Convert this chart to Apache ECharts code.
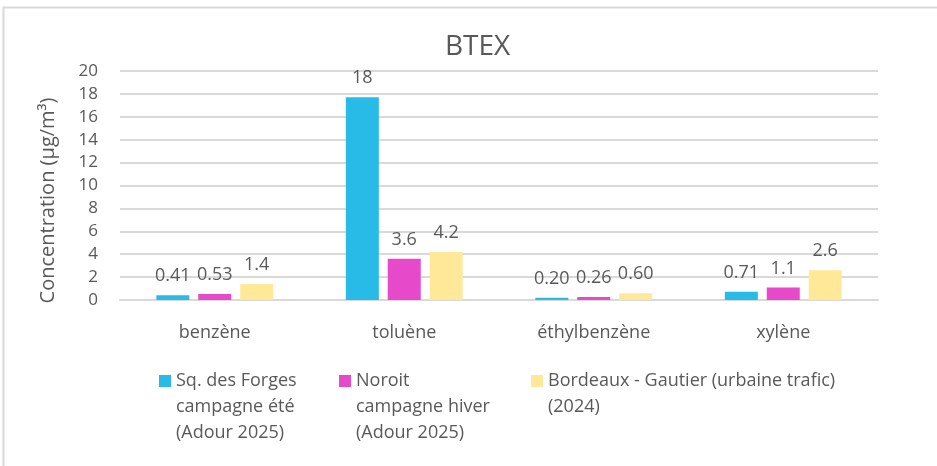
<!DOCTYPE html>
<html><head><meta charset="utf-8">
<script src="https://cdn.jsdelivr.net/npm/echarts@6/dist/echarts.min.js"></script>
<style>html,body{margin:0;padding:0;background:#fff}#c{width:937px;height:466px}</style>
</head><body><div id="c"></div>
<script>
const categories = ['benzène', 'toluène', 'éthylbenzène', 'xylène'];
const seriesNames = [
  'Sq. des Forges\ncampagne été\n(Adour 2025)',
  'Noroit\ncampagne hiver\n(Adour 2025)',
  'Bordeaux - Gautier (urbaine trafic)\n(2024)'
];
const forgesValues = [0.41, 17.7, 0.20, 0.71];
const noroitValues = [0.53, 3.6, 0.26, 1.1];
const bordeauxValues = [1.4, 4.2, 0.60, 2.6];
const yTicks = [0, 2, 4, 6, 8, 10, 12, 14, 16, 18, 20];
const colors = ['#29BBE8', '#E64ACA', '#FFE999'];
const allValues = [forgesValues, noroitValues, bordeauxValues];

const FONT = 'Open Sans';
const TXT = '#595959';
const chart = echarts.init(document.getElementById('c'));
const legendLefts = [159, 339, 531];
const LH = 26, ICON_CY = 381;
chart.setOption({
  animation: false,
  textStyle: { fontFamily: FONT },
  title: { text: 'BTEX', left: 440, top: 28, textStyle: { fontFamily: FONT, fontSize: 28, fontWeight: 'normal', color: TXT } },
  graphic: [{ type: 'polyline', shape: { points: [[3.5, 466], [3.5, 7.5], [937, 7.5]] }, style: { stroke: '#d9d9d9', lineWidth: 2, fill: null } }],
  grid: { left: 120, right: 59, top: 71, bottom: 166, containLabel: false },
  legend: seriesNames.map((n, i) => {
    const nLines = n.split('\n').length;
    const totalLines = 2 * nLines - 1;
    return {
      data: [n], left: legendLefts[i], top: ICON_CY - totalLines * LH / 2, padding: 0,
      icon: 'rect', itemWidth: 12, itemHeight: 12, itemGap: 0,
      selectedMode: false,
      formatter: name => '\n'.repeat(nLines - 1) + name,
      textStyle: { fontFamily: FONT, fontSize: 18, color: TXT, lineHeight: LH }
    };
  }),
  xAxis: {
    type: 'category', data: categories,
    axisLine: { lineStyle: { color: '#d9d9d9', width: 2 } },
    axisTick: { show: false },
    axisLabel: { fontFamily: FONT, fontSize: 18, color: TXT, margin: 24 }
  },
  yAxis: {
    type: 'value', min: yTicks[0], max: yTicks[yTicks.length - 1], interval: yTicks[1] - yTicks[0],
    name: 'Concentration (µg/m³)', nameLocation: 'middle', nameGap: 62, nameRotate: 90,
    nameTextStyle: { fontFamily: FONT, fontSize: 20, color: TXT, padding: [0, 30, 0, 0] },
    axisLine: { show: false }, axisTick: { show: false },
    axisLabel: { fontFamily: FONT, fontSize: 17, color: TXT, margin: 22 },
    splitLine: { lineStyle: { color: '#d9d9d9', width: 2 } }
  },
  series: allValues.map((vals, i) => ({
    type: 'bar', name: seriesNames[i], data: vals,
    barWidth: 33, barGap: '27%',
    itemStyle: { color: colors[i] },
    label: { show: true, position: 'top', distance: 10, fontFamily: FONT, fontSize: 18, color: TXT,
      formatter: p => Number(p.value).toPrecision(2) }
  }))
});
</script></body></html>
